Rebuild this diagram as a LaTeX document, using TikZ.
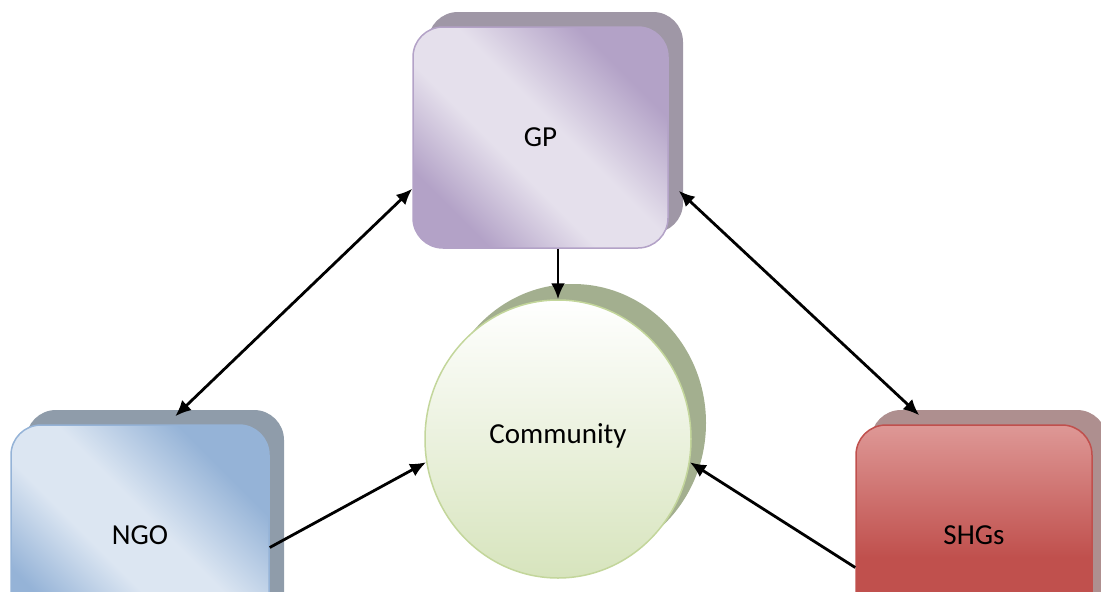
\documentclass[tikz,border=0pt]{standalone}
\usepackage{fontspec}
\setmainfont{Carlito}
\usetikzlibrary{arrows.meta,calc,shapes.geometric}
\definecolor{gpdark}{HTML}{B3A2C7}
\definecolor{gplight}{HTML}{E5E0EC}
\definecolor{gpshadow}{HTML}{9F97A6}
\definecolor{ngodark}{HTML}{95B3D7}
\definecolor{ngolight}{HTML}{DCE6F2}
\definecolor{ngoshadow}{HTML}{8F9CAA}
\definecolor{shgtop}{HTML}{DE9896}
\definecolor{shgbot}{HTML}{C0504D}
\definecolor{shgshadow}{HTML}{AE8F8F}
\definecolor{comtop}{HTML}{FFFFFF}
\definecolor{combot}{HTML}{D7E4BD}
\definecolor{comborder}{HTML}{C3D69B}
\definecolor{comshadow}{HTML}{A3AF8F}
\pgfdeclarehorizontalshading{gpshade}{100bp}{color(0bp)=(gpdark); color(26bp)=(gpdark); color(42bp)=(gplight); color(54bp)=(gplight); color(72bp)=(gpdark); color(100bp)=(gpdark)}
\pgfdeclarehorizontalshading{ngoshade}{100bp}{color(0bp)=(ngodark); color(26bp)=(ngodark); color(42bp)=(ngolight); color(54bp)=(ngolight); color(72bp)=(ngodark); color(100bp)=(ngodark)}
\pgfdeclareverticalshading{shgshade}{100bp}{color(0bp)=(shgbot); color(25bp)=(shgbot); color(45bp)=(shgbot); color(75bp)=(shgtop); color(100bp)=(shgtop)}
\tikzset{ah/.tip={Latex[length=16pt,width=14pt]}}
\begin{document}
\begin{tikzpicture}[x=1pt,y=-1pt,
  box/.style={rectangle,rounded corners=30pt,minimum width=255pt,minimum height=221pt,inner sep=0pt,line width=1.5pt,
    font=\fontsize{29}{34}\selectfont},
  shadowbox/.style={rectangle,rounded corners=30pt,minimum width=255pt,minimum height=221pt,inner sep=0pt,draw=none},
  conn/.style={line width=2.8pt,black}
]
\useasboundingbox (0,0) rectangle (1101,592);
\clip (0,0) rectangle (1101,592);
% shadows
\node[shadowbox,fill=gpshadow] (gpS) at (555.5,122.5) {};
\node[shadowbox,fill=ngoshadow,minimum width=258pt] (ngoS) at (155,520.5) {};
\node[shadowbox,fill=shgshadow,minimum width=236pt] (shgS) at (989,520.5) {};
\node[ellipse,minimum width=266pt,minimum height=278pt,inner sep=0pt,fill=comshadow] (comS) at (573,423) {};
% main shapes
\node[box,draw=gpdark,shading=gpshade,shading angle=45] (gp) at (540.5,137.5) {GP};
\node[box,minimum width=258pt,draw=ngodark,shading=ngoshade,shading angle=45] (ngo) at (140,535.5) {NGO};
\node[box,minimum width=236pt,draw=shgbot,shading=shgshade] (shg) at (974,535.5) {SHGs};
\node[ellipse,minimum width=266pt,minimum height=278pt,inner sep=0pt,line width=1.5pt,draw=comborder,top color=comtop,bottom color=combot] (com) at (558,439) {};
\node[font=\fontsize{29}{34}\selectfont,inner sep=0pt] (comT) at (558,436) {Community};
% connectors
\coordinate (a1) at ($(gp.south west)+(0,-60)$);
\coordinate (a2) at ($(ngo.north west)+(165,-8)$);
\coordinate (b1) at ($(gp.south east)+(10,-58)$);
\coordinate (b2) at ($(shg.north west)+(64,-9)$);
\coordinate (n1) at ($(ngo.east)+(0,12)$);
\coordinate (s1) at ($(shg.west)+(0,32)$);
\draw[conn,ah-ah] (a1) -- (a2);
\draw[conn,ah-ah] (b1) -- (b2);
\draw[conn,-ah] (gp.south -| com.north) -- (com.north);
\draw[conn,-ah] (n1) -- (com.190);
\draw[conn,-ah] (s1) -- (com.-10);
\end{tikzpicture}
\end{document}
